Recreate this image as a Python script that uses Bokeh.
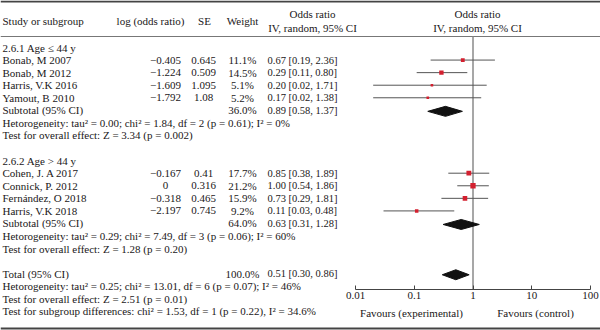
from bokeh.plotting import figure
from bokeh.models import Range1d, LogScale, LogAxis, FixedTicker, ColumnDataSource
from bokeh.core.properties import value
from bokeh.embed import file_html
from bokeh.resources import INLINE

# ---------------- data ----------------
studies = ["Bonab, M 2007", "Bonab, M 2012", "Harris, V.K 2016", "Yamout, B 2010",
           "Cohen, J. A 2017", "Connick, P. 2012", "Fernández, O 2018", "Harris, V.K 2018"]
log_or = [-0.405, -1.224, -1.609, -1.792, -0.167, 0, -0.318, -2.197]
se = [0.645, 0.509, 1.095, 1.08, 0.41, 0.316, 0.465, 0.745]
weight = [11.1, 14.5, 5.1, 5.2, 17.7, 21.2, 15.9, 9.2]
or_est = [0.67, 0.29, 0.20, 0.17, 0.85, 1.00, 0.73, 0.11]
ci_lo = [0.19, 0.11, 0.02, 0.02, 0.38, 0.54, 0.29, 0.03]
ci_hi = [2.36, 0.80, 1.71, 1.38, 1.89, 1.86, 1.81, 0.48]

group_titles = ["2.6.1 Age ≤ 44 y", "2.6.2 Age > 44 y"]
sum_labels = ["Subtotal (95% CI)", "Subtotal (95% CI)", "Total (95% CI)"]
sum_weight = ["36.0%", "64.0%", "100.0%"]
sum_text = ["0.89 [0.58, 1.37]", "0.63 [0.31, 1.28]", "0.51 [0.30, 0.86]"]
# diamonds as drawn in the picture (lower, estimate, upper)
dia_lo = [0.17, 0.31, 0.30]
dia_mid = [0.34, 0.63, 0.51]
dia_hi = [0.66, 1.28, 0.86]

stat_lines = [
    "Hetorogeneity: tau² = 0.00; chi² = 1.84, df = 2 (p = 0.61); I² = 0%",
    "Test for overall effect: Z = 3.34 (p = 0.002)",
    "Hetorogeneity: tau² = 0.29; chi² = 7.49, df = 3 (p = 0.06); I² = 60%",
    "Test for overall effect: Z = 1.28 (p = 0.20)",
    "Hetorogeneity: tau² = 0.25; chi² = 13.01, df = 6 (p = 0.07); I² = 46%",
    "Test for overall effect: Z = 2.51 (p = 0.01)",
    "Test for subgroup differences: chi² = 1.53, df = 1 (p = 0.22), I² = 34.6%",
]
ticks = [0.01, 0.1, 1, 10, 100]
tick_labels = ["0.01", "0.1", "1", "10", "100"]

# ---------------- layout ----------------
W, H = 600, 330
ROW0, DY = 47.0, 12.57
def rowy(i):
    return ROW0 + i * DY

study_rows = [1, 2, 3, 4, 10, 11, 12, 13]
title_rows = [0, 9]
sum_rows = [5, 14, 18]
stat_rows = [6, 7, 15, 16, 19, 20, 21]

X_AX0, X_AX1 = 355.0, 590.0   # pixel span of 0.01 .. 100
dec = (X_AX1 - X_AX0) / 4.0
log_lo = 10 ** (-2 - X_AX0 / dec)
log_hi = 10 ** (2 + (W - X_AX1) / dec)
AXIS_Y = 289

FONT = value("Liberation Serif")
FS = "11px"
FS_CI = "10.5px"
TXT = "#1a1718"

p = figure(width=W, height=H, x_range=Range1d(0, W), y_range=Range1d(H, 0),
           x_axis_type=None, y_axis_type=None, output_backend="svg",
           toolbar_location=None, min_border=0)
p.outline_line_color = None
p.background_fill_color = "white"
p.extra_x_ranges = {"log": Range1d(log_lo, log_hi)}
p.extra_x_scales = {"log": LogScale()}

def txt(x, y, t, align="left", size=FS):
    p.text(x=[x], y=[y], text=[t], text_font=FONT, text_font_size=size,
           text_color=TXT, text_align=align, text_baseline="middle")

# header
HY = 20
txt(2, HY, "Study or subgroup")
txt(150, HY, "log (odds ratio)", "center")
txt(204, HY, "SE", "center")
txt(242, HY, "Weight", "center")
txt(312, 13, "Odds ratio", "center")
txt(312, 27, "IV, random, 95% CI", "center")
txt(477, 13, "Odds ratio", "center")
txt(477, 27, "IV, random, 95% CI", "center")

# rules
p.segment(x0=[0], x1=[W], y0=[1], y1=[1], line_color="#444444", line_width=2)
p.segment(x0=[0], x1=[W], y0=[36], y1=[36], line_color="#777777", line_width=1)
p.segment(x0=[0], x1=[W], y0=[328], y1=[328], line_color="#444444", line_width=2)

# group titles
for t, r in zip(group_titles, title_rows):
    txt(2, rowy(r), t)

# study rows
def fmt_log(v):
    return "0" if v == 0 else f"{v:.3f}".replace("-", "−")

ys = [rowy(r) for r in study_rows]
src = ColumnDataSource(dict(
    y=ys, name=studies,
    lg=[fmt_log(v) for v in log_or],
    se=[str(v) for v in se],
    w=[f"{v:.1f}%" for v in weight],
    ci=[f"{o:.2f} [{l:.2f}, {h:.2f}]" for o, l, h in zip(or_est, ci_lo, ci_hi)],
    est=or_est, lo=ci_lo, hi=ci_hi,
    size=[1.15 * (v ** 0.5) for v in weight],
))
for col, x, al, fs in [("name", 2, "left", FS), ("lg", 165, "center", FS),
                       ("se", 203, "center", FS), ("w", 242, "center", FS),
                       ("ci", 267, "left", FS_CI)]:
    p.text(x=x, y="y", text=col, source=src, text_font=FONT, text_font_size=fs,
           text_color=TXT, text_align=al, text_baseline="middle")

# summary rows
for lab, wt, ct, r in zip(sum_labels, sum_weight, sum_text, sum_rows):
    txt(2, rowy(r), lab)
    txt(242, rowy(r), wt, "center")
    txt(267, rowy(r), ct, size=FS_CI)

for t, r in zip(stat_lines, stat_rows):
    txt(2, rowy(r), t)

# forest: null line
p.segment(x0=[1], x1=[1], y0=[36], y1=[AXIS_Y], x_range_name="log",
          line_color="#8a8a8a", line_width=1.5)
# CI whiskers and squares
p.segment(x0="lo", x1="hi", y0="y", y1="y", source=src, x_range_name="log",
          line_color="#555555", line_width=1)
p.scatter(x="est", y="y", size="size", source=src, x_range_name="log",
          marker="square", fill_color="#d3202f", line_color=None)

# diamonds
DH = 5
xs, yy = [], []
for lo, mid, hi, r in zip(dia_lo, dia_mid, dia_hi, sum_rows):
    yc = rowy(r) + 1
    xs.append([lo, mid, hi, mid])
    yy.append([yc, yc - DH, yc, yc + DH])
p.patches(xs=xs, ys=yy, x_range_name="log", fill_color="#111111", line_color="#111111")

# axis
ax = LogAxis(x_range_name="log", fixed_location=AXIS_Y, bounds=(0.01, 100),
             ticker=FixedTicker(ticks=ticks, minor_ticks=[]),
             major_label_overrides={t: l for t, l in zip(ticks, tick_labels)})
ax.major_tick_in = 4
ax.major_tick_out = 0
ax.minor_tick_in = 0
ax.minor_tick_out = 0
ax.axis_line_color = "#444444"
ax.major_tick_line_color = "#444444"
ax.major_label_text_font = "Liberation Serif"
ax.major_label_text_font_size = FS
ax.major_label_text_color = TXT
ax.major_label_standoff = 2
p.add_layout(ax, "below")

txt(411, 312, "Favours (experimental)", "center")
txt(535, 312, "Favours (control)", "center")

open("out.html", "w").write(file_html(p, INLINE))
